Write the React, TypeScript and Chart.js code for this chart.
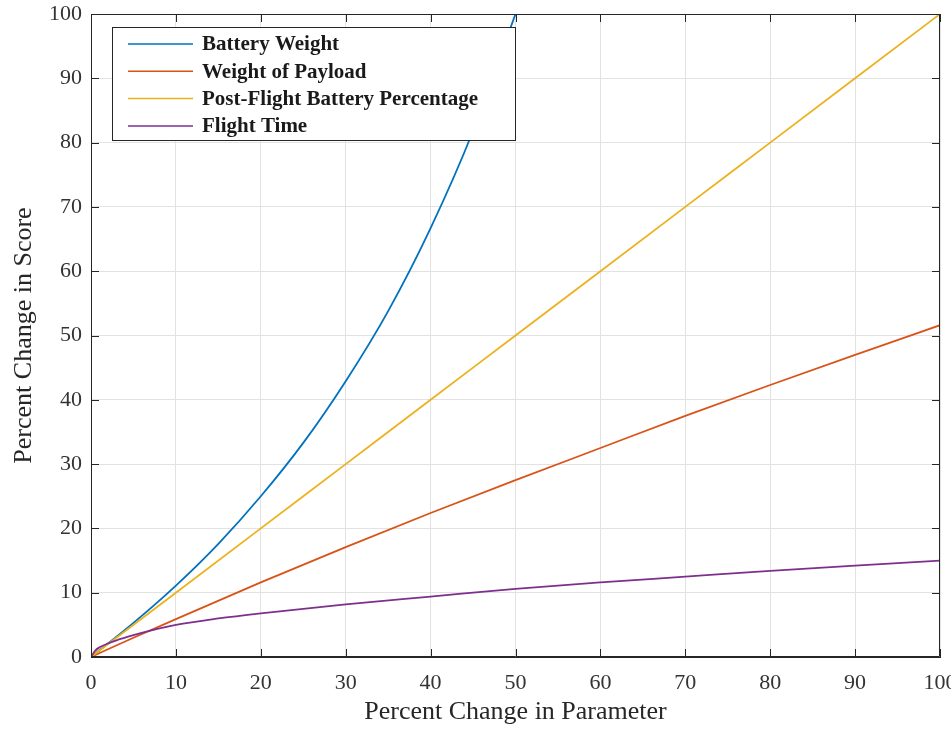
import { useEffect, useRef } from "react";
import { Chart, registerables } from "chart.js";

Chart.register(...registerables);

const seriesNames = [
  "Battery Weight",
  "Weight of Payload",
  "Post-Flight Battery Percentage",
  "Flight Time",
];
const seriesColors = ["#0072BD", "#D95319", "#EDB120", "#7E2F8E"];

const batteryX = [0, 5, 10, 15, 20, 25, 30, 35, 40, 45, 50];
const batteryY = [0, 5.3, 11.1, 17.6, 25.0, 33.3, 42.9, 53.8, 66.7, 81.8, 100];

const payloadX = [0, 5, 10, 20, 30, 40, 50, 60, 70, 80, 90, 100];
const payloadY = [0, 3.0, 5.9, 11.6, 17.1, 22.4, 27.5, 32.5, 37.5, 42.3, 47.0, 51.6];

const postFlightX = [0, 10, 20, 30, 40, 50, 60, 70, 80, 90, 100];
const postFlightY = [0, 10, 20, 30, 40, 50, 60, 70, 80, 90, 100];

const flightX = [0, 0.5, 1, 2, 3, 5, 7, 10, 15, 20, 30, 40, 50, 60, 70, 80, 90, 100];
const flightY = [0, 1.0, 1.5, 2.1, 2.6, 3.4, 4.1, 5.0, 6.0, 6.8, 8.2, 9.4, 10.6, 11.6, 12.5, 13.4, 14.2, 15.0];

const xTitle = "Percent Change in Parameter";
const yTitle = "Percent Change in Score";

const SERIF = "'Liberation Serif', 'Times New Roman', serif";

function pts(xs: number[], ys: number[]) {
  return xs.map((x, i) => ({ x, y: ys[i] }));
}

const framePlugin = {
  id: "frame",
  afterDatasetsDraw(chart: any) {
    const { ctx, chartArea } = chart;
    const { left, right, top, bottom } = chartArea;
    const xs = chart.scales.x;
    const ys = chart.scales.y;
    ctx.save();
    ctx.strokeStyle = "#262626";
    ctx.lineWidth = 1;
    ctx.beginPath();
    ctx.rect(left + 0.5, top + 0.5, right - left - 1, bottom - top - 1);
    ctx.stroke();
    const tl = 8;
    ctx.beginPath();
    xs.ticks.forEach((t: any) => {
      const px = Math.round(xs.getPixelForValue(t.value)) + 0.5;
      ctx.moveTo(px, bottom);
      ctx.lineTo(px, bottom - tl);
      ctx.moveTo(px, top);
      ctx.lineTo(px, top + tl);
    });
    ys.ticks.forEach((t: any) => {
      const py = Math.round(ys.getPixelForValue(t.value)) + 0.5;
      ctx.moveTo(left, py);
      ctx.lineTo(left + tl, py);
      ctx.moveTo(right, py);
      ctx.lineTo(right - tl, py);
    });
    ctx.stroke();

    // legend
    const lx = 112, ly = 27, lw = 403, lh = 113;
    ctx.fillStyle = "#ffffff";
    ctx.fillRect(lx, ly, lw, lh);
    ctx.strokeStyle = "#262626";
    ctx.lineWidth = 1;
    ctx.strokeRect(lx + 0.5, ly + 0.5, lw, lh);
    ctx.font = `bold 21px ${SERIF}`;
    ctx.textBaseline = "middle";
    ctx.textAlign = "left";
    const ds = chart.data.datasets;
    ds.forEach((d: any, i: number) => {
      const y = 44 + i * 27.3;
      ctx.strokeStyle = d.borderColor;
      ctx.lineWidth = 1.5;
      ctx.beginPath();
      ctx.moveTo(128, y);
      ctx.lineTo(193, y);
      ctx.stroke();
      ctx.fillStyle = "#1a1a1a";
      ctx.fillText(d.label, 202, y + 1);
    });

    // axis titles
    ctx.fillStyle = "#262626";
    ctx.font = `26px ${SERIF}`;
    ctx.textAlign = "center";
    ctx.textBaseline = "middle";
    ctx.fillText(xTitle, (left + right) / 2, 712);
    ctx.translate(24, (top + bottom) / 2);
    ctx.rotate(-Math.PI / 2);
    ctx.fillText(yTitle, 0, 0);
    ctx.restore();
  },
};

export default function App() {
  const ref = useRef<HTMLCanvasElement>(null);
  useEffect(() => {
    const canvas = ref.current!;
    const series = [
      pts(batteryX, batteryY),
      pts(payloadX, payloadY),
      pts(postFlightX, postFlightY),
      pts(flightX, flightY),
    ];
    const chart = new Chart(canvas, {
      type: "line",
      data: {
        datasets: series.map((data, i) => ({
          label: seriesNames[i],
          data,
          borderColor: seriesColors[i],
          backgroundColor: seriesColors[i],
          borderWidth: 1.8,
          pointRadius: 0,
          cubicInterpolationMode: "monotone" as const,
          fill: false,
          order: 4 - i,
        })),
      },
      options: {
        animation: false,
        responsive: false,
        devicePixelRatio: 1,
        layout: { padding: { left: 0, top: 14, right: 35, bottom: 0 } },
        plugins: {
          legend: { display: false },
          tooltip: { enabled: false },
          title: { display: false },
        },
        scales: {
          x: {
            type: "linear",
            min: 0,
            max: 100,
            ticks: {
              stepSize: 10,
              padding: 13,
              color: "#333333",
              font: { family: SERIF, size: 22 },
              maxRotation: 0,
            },
            grid: { color: "#e2e2e2", lineWidth: 1, drawTicks: false },
            border: { display: true, color: "#262626" },
            afterFit: (s: any) => {
              s.height = 72;
              s.paddingLeft = 0;
              s.paddingRight = 0;
            },
          },
          y: {
            type: "linear",
            min: 0,
            max: 100,
            ticks: {
              stepSize: 10,
              padding: 9,
              color: "#333333",
              font: { family: SERIF, size: 22 },
            },
            grid: { color: "#e2e2e2", lineWidth: 1, drawTicks: false },
            border: { display: true, color: "#262626" },
            afterFit: (s: any) => {
              s.width = 91;
              s.paddingTop = 0;
              s.paddingBottom = 0;
            },
          },
        },
      },
      plugins: [framePlugin],
    });
    return () => chart.destroy();
  }, []);
  return (
    <div style={{ position: "fixed", left: 0, top: 0, width: 975, height: 729, background: "#fff" }}>
      <canvas ref={ref} width={975} height={729} style={{ display: "block" }} />
    </div>
  );
}
